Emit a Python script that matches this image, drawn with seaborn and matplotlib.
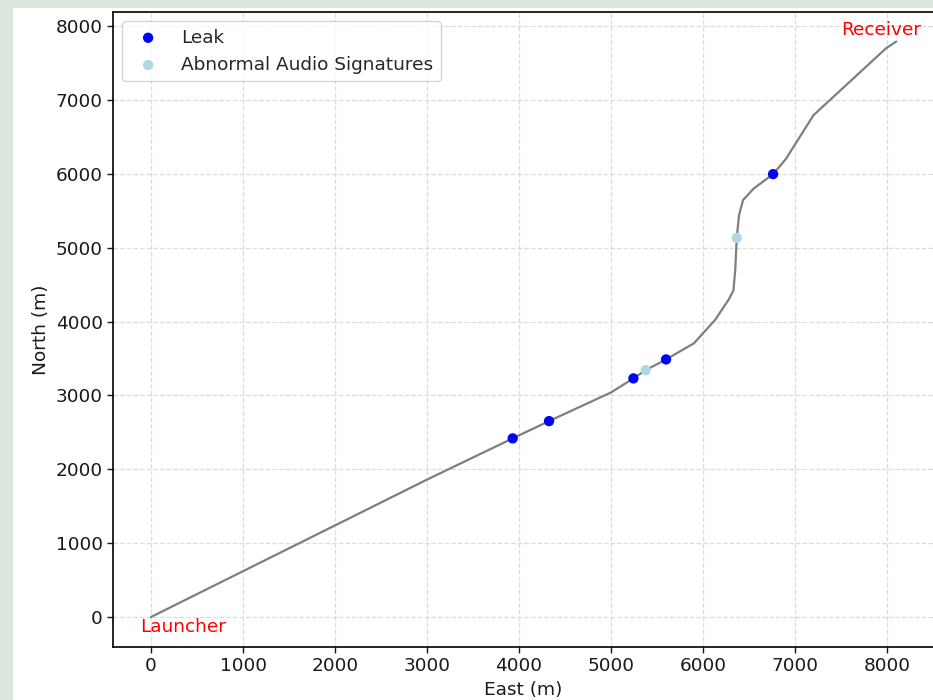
import matplotlib
matplotlib.use("Agg")
import matplotlib.pyplot as plt
import seaborn as sns
import pandas as pd
from matplotlib.patches import Rectangle

# Pipeline path (East, North) in metres
path_east = [0, 1000, 2000, 3000, 3931, 4326, 5000, 5243, 5377, 5598, 5900, 6130,
             6280, 6330, 6350, 6366, 6391, 6435, 6550, 6761, 6900, 7200, 7990, 8100]
path_north = [0, 620, 1240, 1860, 2418, 2652, 3040, 3230, 3342, 3487, 3705, 4020,
              4300, 4420, 4700, 5133, 5440, 5645, 5800, 5995, 6200, 6793, 7700, 7790]

leak_east = [3931, 4326, 5243, 5598, 6761]
leak_north = [2418, 2652, 3230, 3487, 5995]

abn_east = [5377, 6366]
abn_north = [3342, 5133]

sns.set_style("white")
plt.rcParams['font.family'] = ['DejaVu Sans']
FS = 13.3

fig = plt.figure(figsize=(9.33, 7.0), dpi=100)
fig.patch.set_facecolor('#dbe5dc')
bg = Rectangle((13 / 933, 0), 1, 1 - 8 / 700, transform=fig.transFigure,
               facecolor='white', edgecolor='none', zorder=-10)
fig.add_artist(bg)
ax = fig.add_axes([113 / 933, 1 - 647 / 700, (934 - 113) / 933, (647 - 12) / 700])
ax.set_zorder(5)

df_path = pd.DataFrame({'East': path_east, 'North': path_north})
sns.lineplot(data=df_path, x='East', y='North', sort=False, color='#7f7f7f', lw=1.6, ax=ax,
             zorder=2)
sns.scatterplot(x=leak_east, y=leak_north, color='blue', s=55, edgecolor='none',
                label='Leak', ax=ax, zorder=3)
sns.scatterplot(x=abn_east, y=abn_north, color='lightblue', s=55, edgecolor='none',
                label='Abnormal Audio Signatures', ax=ax, zorder=3)

ax.text(-120, -20, 'Launcher', color='red', fontsize=FS, ha='left', va='top')
ax.text(7935, 7876, 'Receiver', color='red', fontsize=FS, ha='center', va='baseline')

ax.set_xlim(-413, 8510)
ax.set_ylim(-406, 8190)
ax.set_xticks(range(0, 8001, 1000))
ax.set_yticks(range(0, 8001, 1000))
ax.tick_params(labelsize=FS, length=4, width=1, colors='#1a1a1a', left=True, bottom=True)
ax.grid(True, linestyle='--', color='#dcdcdc', linewidth=0.9)
ax.set_xlabel('East (m)', fontsize=FS, color='#1a1a1a')
ax.set_ylabel('North (m)', fontsize=FS, color='#1a1a1a')
for s in ax.spines.values():
    s.set_color('black')
    s.set_linewidth(1.2)
ax.legend(loc='upper left', fontsize=FS, frameon=True, markerscale=1.0)

fig.savefig('out.png', dpi=100, facecolor=fig.get_facecolor())
